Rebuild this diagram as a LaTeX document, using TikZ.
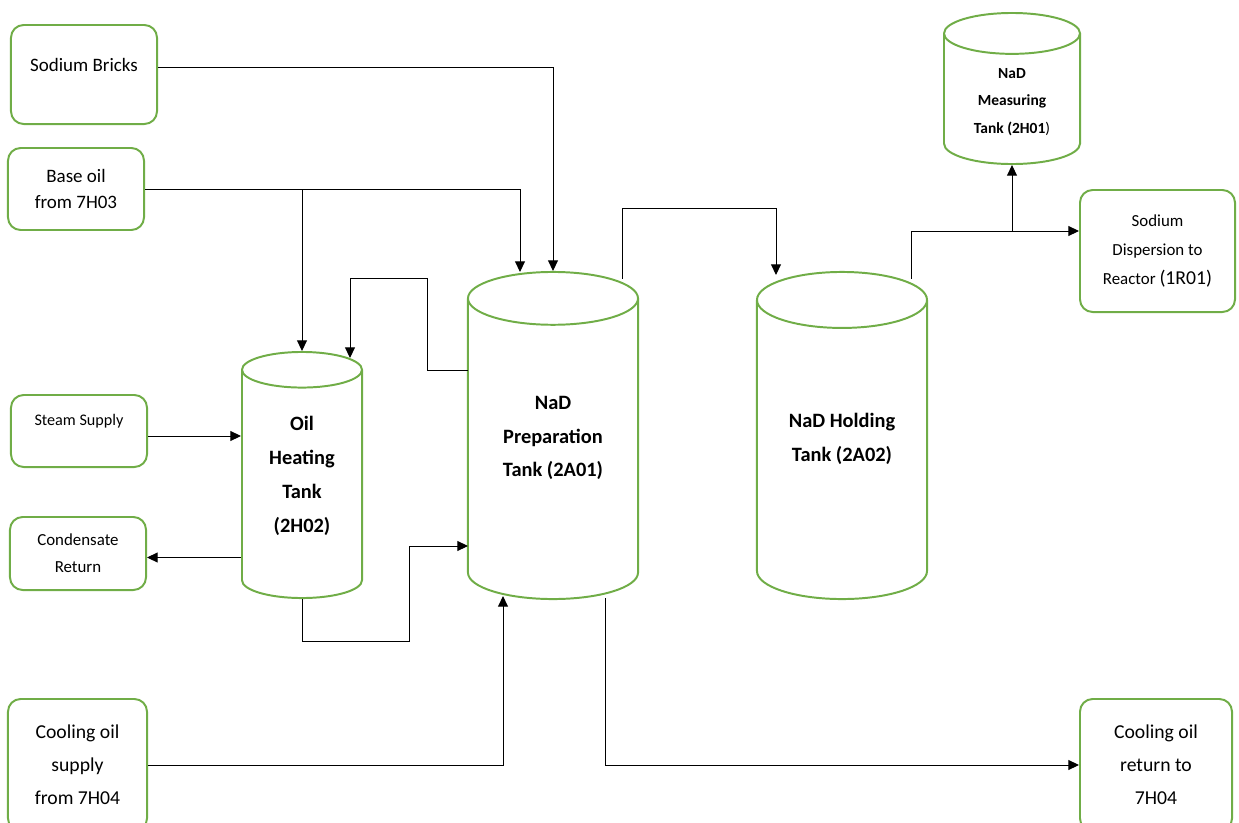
\documentclass[tikz,border=0pt]{standalone}
\usepackage{fontspec}
\setmainfont{Carlito}
\usetikzlibrary{arrows.meta,positioning,shapes.geometric,calc}
\definecolor{boxgreen}{RGB}{112,173,71}

\begin{document}
\begin{tikzpicture}[x=0.025cm,y=-0.025cm,
        feedbox/.style={
            draw=boxgreen,
            line width=1.4pt,
            rounded corners=9pt,
            align=center,
            inner sep=2pt},
        tank/.style={
            cylinder,
            shape border rotate=90,
            shape aspect=0.5,
            anchor=shape center,
            draw=boxgreen,
            line width=1.4pt,
            align=center,
            inner sep=2pt},
        tankfont/.style={font=\fontsize{14.5}{24}\selectfont\bfseries},
        flow/.style={-{Triangle[length=7.5pt,width=7pt]},line width=0.7pt}
        ]
        \useasboundingbox (0,0) rectangle (1239,823);

        % feed boxes on the left
        \node[feedbox,minimum width=3.65cm,minimum height=2.475cm,
              label={[font=\fontsize{13.5}{19}\selectfont,yshift=6.7pt]center:Sodium Bricks}] (bricks) at (84,74.5) {};
        \node[feedbox,minimum width=3.4cm,minimum height=2.05cm,
              font=\fontsize{13.5}{19}\selectfont] (baseoil) at (76,189) {Base oil\\from 7H03};
        \node[feedbox,minimum width=3.4cm,minimum height=1.8cm,
              label={[font=\fontsize{11.5}{16}\selectfont,yshift=7pt]center:Steam Supply}] (steam) at (79,431) {};
        \node[feedbox,minimum width=3.4cm,minimum height=1.825cm,
              font=\fontsize{12}{19}\selectfont] (cond) at (78,553.5) {Condensate\\Return};
        \node[feedbox,minimum width=3.475cm,minimum height=3.3cm,
              font=\fontsize{14}{23.5}\selectfont] (cosup) at (77.5,765) {Cooling oil\\supply\\from 7H04};

        % tanks (text depth lifts the text to the middle of the tank)
        \node[tank,tankfont,text depth=18pt,minimum width=3cm,minimum height=6.15cm] (heat) at (302,475) {Oil\\Heating\\Tank\\(2H02)};
        \node[tank,tankfont,text depth=23pt,minimum width=4.25cm,minimum height=8.175cm] (prep) at (553,435.5) {NaD\\Preparation\\Tank (2A01)};
        \node[tank,tankfont,text depth=23.5pt,minimum width=4.25cm,minimum height=8.175cm] (hold) at (842,435.5) {NaD Holding\\Tank (2A02)};
        \node[tank,font=\fontsize{11}{19.5}\selectfont\bfseries,minimum width=3.4cm,minimum height=3.775cm] (meas) at (1012,88.5) {NaD\\Measuring\\Tank (2H01\textmd{)}};

        % product boxes on the right
        \node[feedbox,minimum width=3.875cm,minimum height=3.05cm,
              font=\fontsize{12}{20.5}\selectfont] (disp) at (1157.5,251) {Sodium\\Dispersion to\\Reactor {\fontsize{14}{20.5}\selectfont(1R01)}};
        \node[feedbox,minimum width=3.8cm,minimum height=3.3cm,
              font=\fontsize{14}{23.5}\selectfont] (coret) at (1156,765) {Cooling oil\\return to\\7H04};

        % connection points
        \coordinate (steamout) at ($(steam.east)+(0,5)$);
        \coordinate (condin) at ($(cond.east)+(0,4)$);
        \coordinate (prepret) at ($(prep.shape center)+(-85,-65.5)$);
        \coordinate (prepin) at ($(prep.shape center)+(-85,110.5)$);
        \coordinate (dispin) at ($(disp.west)+(0,-20)$);

        % pipes
        \draw[flow] ($(bricks.east)+(0,-7)$) -| (prep.north);
        \draw[flow] (baseoil.east) -| ($(prep.north)+(-33,1)$);
        \draw[flow] (baseoil.east -| heat.north) -- (heat.north);
        \draw[flow] (prepret) -- ++(-41,0) |- ($(heat.north)+(48,-72)$) -- ($(heat.north)+(48,7)$);
        \draw[flow] (steamout) -- (steamout -| heat.west);
        \draw[flow] (condin -| heat.west) -- (condin);
        \draw[flow] (heat.south) -- ++(0,42) -| ($(prepin)+(-59,0)$) -- (prepin);
        \draw[flow] (cosup.east) -| ($(prep.south)+(-50,-4)$);
        \draw[flow] ($(prep.south)+(52,-2)$) |- (coret.west);
        \draw[flow] ($(prep.north)+(69,8)$) |- ($(hold.north)+(-66,-62)$) -- ($(hold.north)+(-66,4)$);
        \draw[flow] ($(hold.north)+(69,8)$) |- (dispin);
        \draw[flow] (dispin -| meas.south) -- (meas.south);
\end{tikzpicture}
\end{document}
